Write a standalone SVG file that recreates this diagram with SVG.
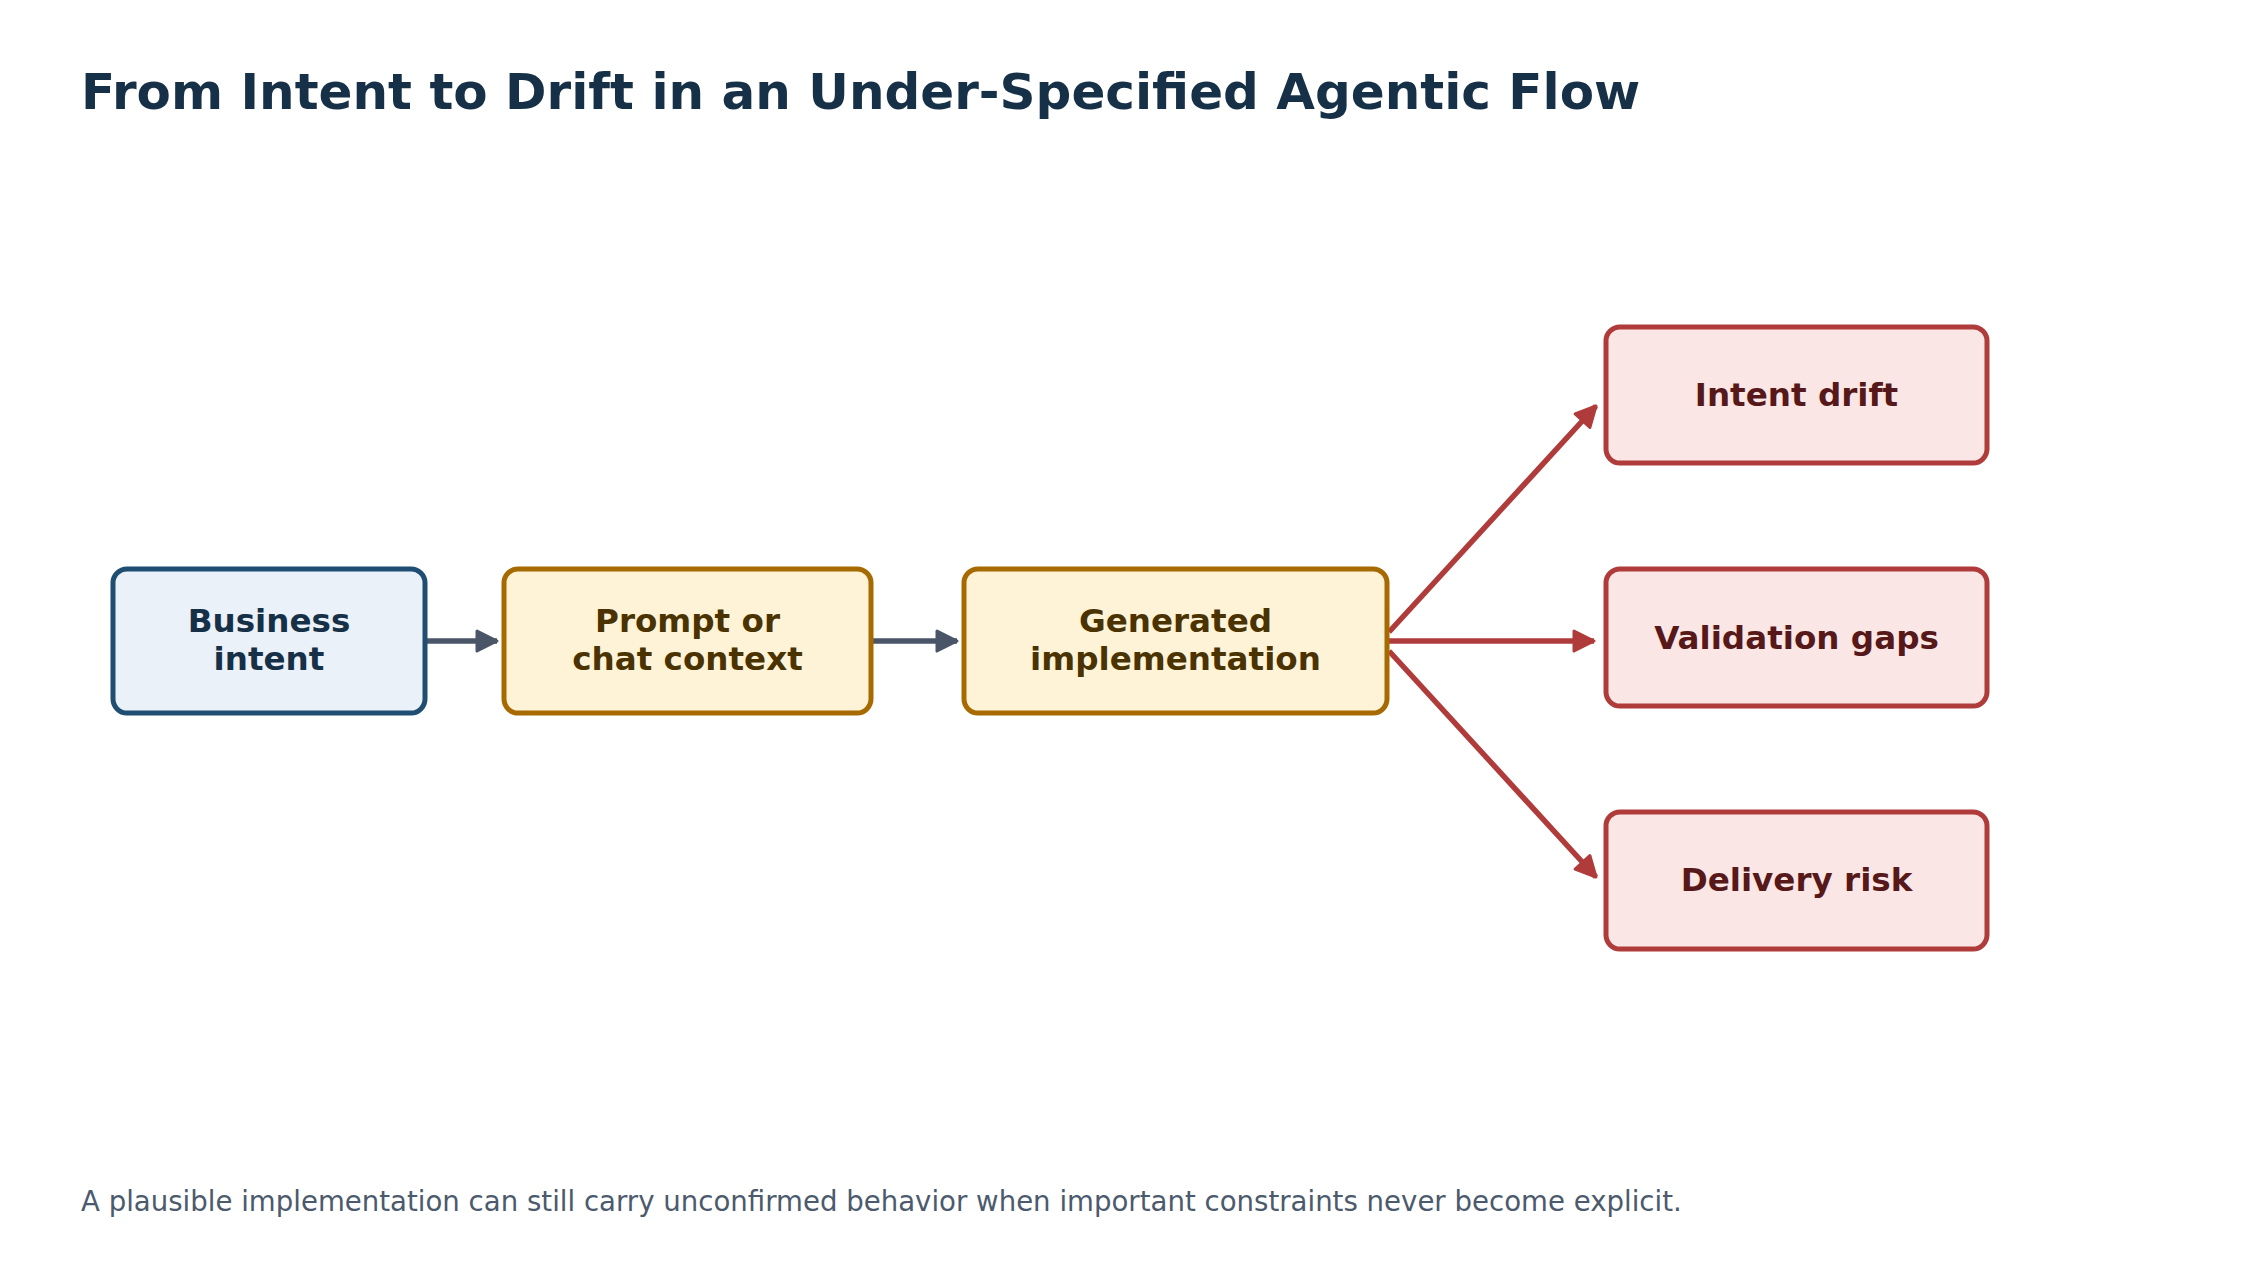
<svg xmlns="http://www.w3.org/2000/svg" width="2268" height="1283" viewBox="0 0 2268 1283">
<style>
.title{font-family:"DejaVu Sans",sans-serif;font-weight:bold;font-size:50px;fill:#163047}
.foot{font-family:"DejaVu Sans",sans-serif;font-size:27.6px;fill:#4b5a6d}
.lbl{font-family:"DejaVu Sans",sans-serif;font-weight:bold;font-size:32.6px;text-anchor:middle}
.blue rect{fill:#eaf1f8;stroke:#1f4e72;stroke-width:5}
.blue text{fill:#163047}
.gold rect{fill:#fef3d6;stroke:#a66a00;stroke-width:5}
.gold text{fill:#4a3300}
.red rect{fill:#fbe6e6;stroke:#b03b3b;stroke-width:5}
.red text{fill:#561818}
.g{stroke:#4b5568;stroke-width:5.5;fill:none}
.r{stroke:#b03b3b;stroke-width:5.5;fill:none}
</style>
<defs>
<marker id="ag" markerUnits="userSpaceOnUse" markerWidth="30" markerHeight="30" refX="20" refY="10" orient="auto" overflow="visible">
<path d="M0,0 L20,10 L0,20 z" fill="#4b5568" stroke="#4b5568" stroke-width="3" stroke-linejoin="round"/>
</marker>
<marker id="ar" markerUnits="userSpaceOnUse" markerWidth="30" markerHeight="30" refX="20" refY="10" orient="auto" overflow="visible">
<path d="M0,0 L20,10 L0,20 z" fill="#b03b3b" stroke="#b03b3b" stroke-width="3" stroke-linejoin="round"/>
</marker>
</defs>
<rect width="2268" height="1283" fill="#ffffff"/>
<text class="title" x="81" y="109">From Intent to Drift in an Under-Specified Agentic Flow</text>
<g id="connectors">
<line class="g" x1="427" y1="641" x2="497" y2="641" marker-end="url(#ag)"/>
<line class="g" x1="873" y1="641" x2="957" y2="641" marker-end="url(#ag)"/>
<line class="r" x1="1389" y1="641" x2="1594" y2="641" marker-end="url(#ar)"/>
<line class="r" x1="1389" y1="632" x2="1596" y2="406" marker-end="url(#ar)"/>
<line class="r" x1="1389" y1="651" x2="1596" y2="877" marker-end="url(#ar)"/>
</g>
<g id="business" class="blue">
<rect x="113" y="569" width="312" height="144" rx="14"/>
<text class="lbl" x="269" y="632">Business</text>
<text class="lbl" x="269" y="670">intent</text>
</g>
<g id="prompt" class="gold">
<rect x="504" y="569" width="367" height="144" rx="14"/>
<text class="lbl" x="687.5" y="632">Prompt or</text>
<text class="lbl" x="687.5" y="670">chat context</text>
</g>
<g id="generated" class="gold">
<rect x="964" y="569" width="423" height="144" rx="14"/>
<text class="lbl" x="1175.5" y="632">Generated</text>
<text class="lbl" x="1175.5" y="670">implementation</text>
</g>
<g id="intent-drift" class="red">
<rect x="1606" y="327" width="381" height="136" rx="14"/>
<text class="lbl" x="1796.5" y="406">Intent drift</text>
</g>
<g id="validation-gaps" class="red">
<rect x="1606" y="569" width="381" height="137" rx="14"/>
<text class="lbl" x="1796.5" y="649">Validation gaps</text>
</g>
<g id="delivery-risk" class="red">
<rect x="1606" y="812" width="381" height="137" rx="14"/>
<text class="lbl" x="1796.5" y="891">Delivery risk</text>
</g>
<text class="foot" x="81" y="1211">A plausible implementation can still carry unconfirmed behavior when important constraints never become explicit.</text>
</svg>
